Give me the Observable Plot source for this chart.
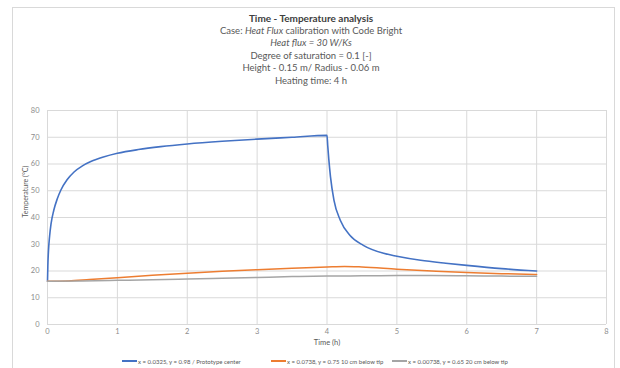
<!DOCTYPE html>
<html>
<head>
<meta charset="utf-8">
<script src="https://cdn.jsdelivr.net/npm/d3@7"></script>
<script src="https://cdn.jsdelivr.net/npm/@observablehq/plot@0.6"></script>
<style>
  html, body { margin: 0; padding: 0; background: #fff; width: 620px; height: 368px; overflow: hidden; }
  #wrap { position: relative; width: 620px; height: 368px; font-family: Lato, "Open Sans", sans-serif; }
  #border { position: absolute; left: 12px; top: 7px; width: 603px; height: 380px; border: 1px solid #d9d9d9; box-sizing: border-box; }
  #title { position: absolute; left: 0; top: 12px; width: 622px; text-align: center; color: #595959; font-size: 9.5px; line-height: 12.5px; }
  #title .main { font-weight: bold; font-size: 10px; color: #404040; }
  #chart { position: absolute; left: 0; top: 90px; }
  #legend { position: absolute; left: 0; top: 355px; width: 620px; height: 12px; font-size: 6px; color: #595959; }
  .item { position: absolute; top: 0; display: flex; align-items: center; height: 12px; white-space: nowrap; }
  .swatch { width: 15px; height: 2px; margin-right: 1px; }
</style>
</head>
<body>
<div id="wrap">
  <div id="border"></div>
  <div id="title"></div>
  <div id="chart"></div>
  <div id="legend"></div>
</div>
<script>
// ---- Data ----
const titleLines = [
  "Time - Temperature analysis",
  "Case: <i>Heat Flux</i> calibration with Code Bright",
  "<i>Heat flux = 30 W/Ks</i>",
  "Degree of saturation = 0.1 [-]",
  "Height - 0.15 m/ Radius - 0.06 m",
  "Heating time: 4 h"
];
const seriesNames = [
  "x = 0.0325, y = 0.98 / Prototype center",
  "x = 0.0738, y = 0.75 10 cm below tip",
  "x = 0.00738, y = 0.65 20 cm below tip"
];
const seriesColors = ["#4472C4", "#ED7D31", "#A5A5A5"];

const blueTime = [0, 0.005, 0.015, 0.03, 0.05, 0.09, 0.14, 0.19, 0.28, 0.38, 0.5, 0.62, 0.8, 1.0, 1.3, 1.62, 2.0, 2.5, 3.0, 3.5, 4.0, 4.01, 4.025, 4.05, 4.1, 4.19, 4.33, 4.52, 4.81, 5.0, 5.34, 5.7, 6.0, 6.5, 7.0];
const blueTemp = [16.2, 22, 28, 33, 37.5, 42.7, 47, 50.2, 54.1, 57.0, 59.3, 60.9, 62.6, 64.0, 65.4, 66.5, 67.5, 68.5, 69.3, 70.0, 70.7, 67, 62, 55.2, 46.4, 39, 33.3, 29.6, 26.6, 25.5, 24, 22.9, 22.1, 20.9, 20.0];

const orangeTime = [0, 0.3, 0.6, 1, 1.5, 2, 2.5, 3, 3.5, 4, 4.25, 4.5, 5, 5.5, 6, 6.5, 7];
const orangeTemp = [16.2, 16.3, 16.8, 17.5, 18.4, 19.2, 19.9, 20.5, 21.0, 21.5, 21.7, 21.5, 20.7, 20.0, 19.4, 19.0, 18.7];

const grayTime = [0, 0.5, 1, 1.5, 2, 2.5, 3, 3.5, 4, 4.5, 5, 5.5, 6, 6.5, 7];
const grayTemp = [16.2, 16.3, 16.5, 16.7, 17.0, 17.3, 17.6, 17.9, 18.1, 18.2, 18.3, 18.3, 18.2, 18.1, 18.0];

const xTicks = [0, 1, 2, 3, 4, 5, 6, 7, 8];
const yTicks = [0, 10, 20, 30, 40, 50, 60, 70, 80];
const xLabel = "Time (h)";
const yLabel = "Temperature (°C)";

// ---- Build ----
document.getElementById("title").innerHTML = titleLines
  .map((t, i) => `<div class="${i === 0 ? "main" : ""}">${t}</div>`).join("");

const toRows = (ts, vs, s) => ts.map((t, i) => ({time: t, temp: vs[i], series: s}));
const blue = toRows(blueTime, blueTemp, seriesNames[0]);
const orange = toRows(orangeTime, orangeTemp, seriesNames[1]);
const gray = toRows(grayTime, grayTemp, seriesNames[2]);

const chart = Plot.plot({
  width: 620,
  height: 262,
  marginTop: 20,
  marginBottom: 28,
  marginLeft: 47,
  marginRight: 14,
  style: {fontFamily: "Lato, 'Open Sans', sans-serif", fontSize: "7.5px", color: "#8c8c8c", background: "transparent", overflow: "visible"},
  x: {domain: [0, 8]},
  y: {domain: [0, 80]},
  marks: [
    Plot.gridX(xTicks, {stroke: "#d9d9d9", strokeOpacity: 1}),
    Plot.gridY(yTicks, {stroke: "#d9d9d9", strokeOpacity: 1}),
    Plot.axisX(xTicks, {tickSize: 0, tickPadding: 4, label: null, fill: "#8c8c8c"}),
    Plot.axisY(yTicks, {tickSize: 0, tickPadding: 8, label: null, fill: "#8c8c8c"}),
    Plot.text([xLabel], {frameAnchor: "bottom", dy: 20, fill: "#595959", fontSize: 7.5}),
    Plot.text([yLabel], {frameAnchor: "left", dx: -22, rotate: -90, fill: "#595959", fontSize: 7}),
    Plot.line(blue, {x: "time", y: "temp", stroke: seriesColors[0], strokeWidth: 1.6, curve: "monotone-x"}),
    Plot.line(orange, {x: "time", y: "temp", stroke: seriesColors[1], strokeWidth: 1.5, curve: "monotone-x"}),
    Plot.line(gray, {x: "time", y: "temp", stroke: seriesColors[2], strokeWidth: 1.5, curve: "monotone-x"})
  ]
});
document.getElementById("chart").appendChild(chart);

const legendLeft = [122, 271, 392];
const legend = document.getElementById("legend");
seriesNames.forEach((name, i) => {
  const item = document.createElement("div");
  item.className = "item";
  item.style.left = legendLeft[i] + "px";
  item.innerHTML = `<span class="swatch" style="background:${seriesColors[i]}"></span><span>${name}</span>`;
  legend.appendChild(item);
});
</script>
</body>
</html>
